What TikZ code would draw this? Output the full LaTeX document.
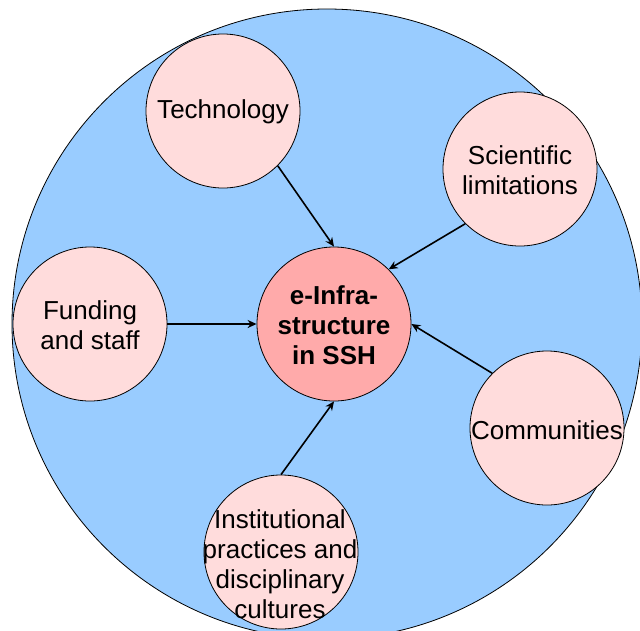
\documentclass[tikz,border=0pt]{standalone}
\usepackage{fontspec}
\setmainfont{Liberation Sans}
\usetikzlibrary{arrows.meta}
\definecolor{skyfill}{HTML}{99CCFF}
\definecolor{pinkfill}{HTML}{FFDCDC}
\definecolor{corefill}{HTML}{FFAAAA}
\begin{document}
\begin{tikzpicture}[x=1pt,y=-1pt,
  bubble/.style={circle,draw=black,line width=0.8pt,fill=pinkfill,minimum size=154pt,inner sep=0pt},
  corebubble/.style={circle,draw=black,line width=0.8pt,fill=corefill,minimum size=154pt,inner sep=0pt},
  lbl/.style={align=center,inner sep=0pt,font=\fontsize{26}{30}\selectfont},
  link/.style={draw=black,line width=1.6pt,-{Stealth[length=9pt,width=8pt]}}]
\useasboundingbox (0,0) rectangle (640,630);
\clip (0,0) rectangle (640,630);
\node[circle,draw=black,line width=0.8pt,fill=skyfill,minimum size=630pt,inner sep=0pt] (outer) at (327,324) {};
\node[corebubble] (core) at (334,324) {};
\node[bubble] (tech) at (223,111) {};
\node[bubble] (sci) at (520,169) {};
\node[bubble] (fund) at (90,324) {};
\node[bubble] (comm) at (547,428) {};
\node[bubble] (inst) at (281,552) {};
\node[lbl,font=\fontsize{26}{30}\selectfont\bfseries] (coretext) at (334,325) {e-Infra-\\structure\\in SSH};
\node[lbl] (techtext) at (223,112) {Technology};
\node[lbl] (scitext) at (520,170) {Scientific\\limitations};
\node[lbl] (fundtext) at (90,325) {Funding\\and staff};
\node[lbl] (commtext) at (547,430) {Communities};
\node[lbl] (insttext) at (280,564) {Institutional\\practices and\\disciplinary\\cultures};
\draw[link] (tech.-45) -- (core.north);
\draw[link] (sci.-135) -- (core.45);
\draw[link] (fund.east) -- (core.west);
\draw[link] (comm.135) -- (core.east);
\draw[link] (inst.north) -- (core.south);
\end{tikzpicture}
\end{document}
